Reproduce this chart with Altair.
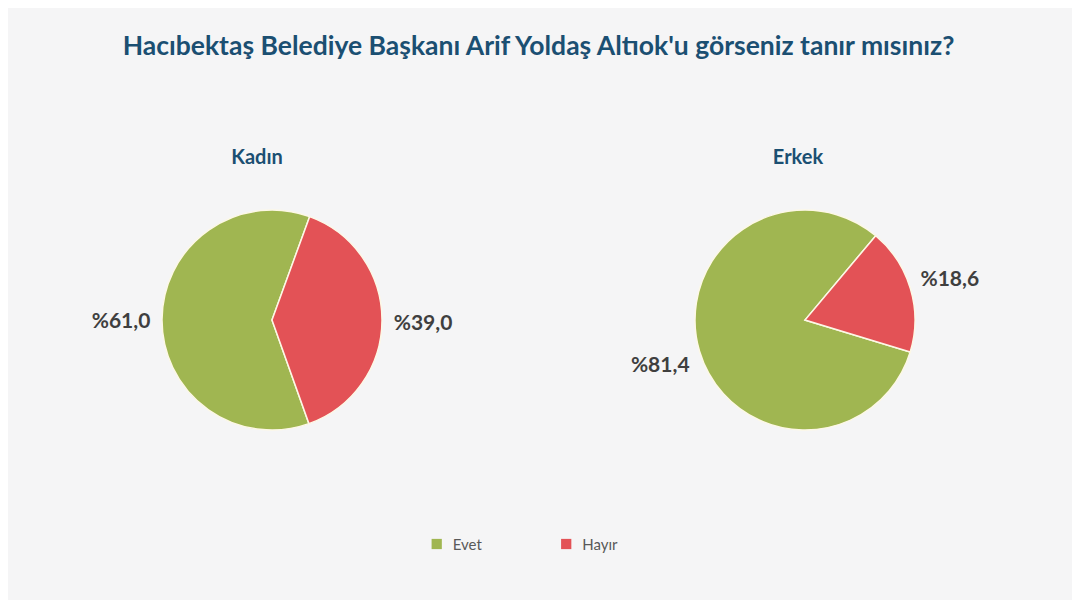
import math
import altair as alt
import pandas as pd

groups = ["Kadın", "Erkek"]
answers = ["Evet", "Hayır"]
kadin_values = [61.0, 39.0]
erkek_values = [81.4, 18.6]
answer_colors = ["#a0b651", "#e35256"]
start_angles_deg = [20.0, 40.0]  # where the first (Hayır) slice begins

title_text = "Hacıbektaş Belediye Başkanı Arif Yoldaş Altıok'u görseniz tanır mısınız?"
FONT = "Lato"
color_scale = alt.Scale(domain=answers, range=answer_colors)


def make_df(values):
    return pd.DataFrame({
        "cevap": answers,
        "deger": values,
        "sira": [1, 0],
        "etiket": ["%" + f"{v:.1f}".replace(".", ",") for v in values],
    })


def pie(name, values, start_deg, title_dx):
    df = make_df(values)
    s = math.radians(start_deg)
    theta = alt.Theta("deger:Q", stack=True,
                      scale=alt.Scale(range=[s, s + 2 * math.pi]))
    base = alt.Chart(df).encode(theta=theta, order=alt.Order("sira:Q"))
    arcs = base.mark_arc(outerRadius=110, stroke="#fdf8e6",
                         strokeWidth=1.5).encode(
        color=alt.Color("cevap:N", scale=color_scale, legend=None))
    labels = base.mark_text(radius=151, font=FONT, fontSize=21,
                            fontWeight="bold", color="#3f3f3f", dy=3).encode(
        text="etiket:N")
    return alt.layer(arcs, labels).properties(
        width=528, height=260,
        title=alt.TitleParams(name, font=FONT, fontSize=20, fontWeight="bold",
                              color="#1b4f72", offset=22, anchor="middle",
                              dx=title_dx))


# legend drawn as a small chart (row of square swatches + labels)
legend_df = pd.DataFrame({"cevap": answers})
lx = alt.X("cevap:N", axis=None,
           scale=alt.Scale(type="point", domain=answers, padding=1,
                           align=0.357))
legend_base = alt.Chart(legend_df).encode(x=lx)
legend_sq = legend_base.mark_square(size=105, opacity=1).encode(
    color=alt.Color("cevap:N", scale=color_scale, legend=None))
legend_tx = legend_base.mark_text(align="left", dx=16, dy=1, font=FONT,
                                  fontSize=15, color="#595959").encode(
    text="cevap:N")
legend_chart = alt.layer(legend_sq, legend_tx).properties(width=388.5,
                                                          height=20)

pies = alt.hconcat(
    pie(groups[0], kadin_values, start_angles_deg[0], -15),
    pie(groups[1], erkek_values, start_angles_deg[1], -7),
    spacing=5,
)

chart = alt.vconcat(pies, legend_chart, spacing=84, center=True).properties(
    title=alt.TitleParams(title_text, font=FONT, fontSize=26.5,
                          fontWeight="bold", color="#1b4f72",
                          anchor="middle", offset=88),
    padding={"left": 0, "right": 3, "top": 25, "bottom": 46},
    background="#f5f5f6",
).configure_view(stroke=None)

chart.save("out.html", embed_options={"renderer": "svg", "actions": False})
